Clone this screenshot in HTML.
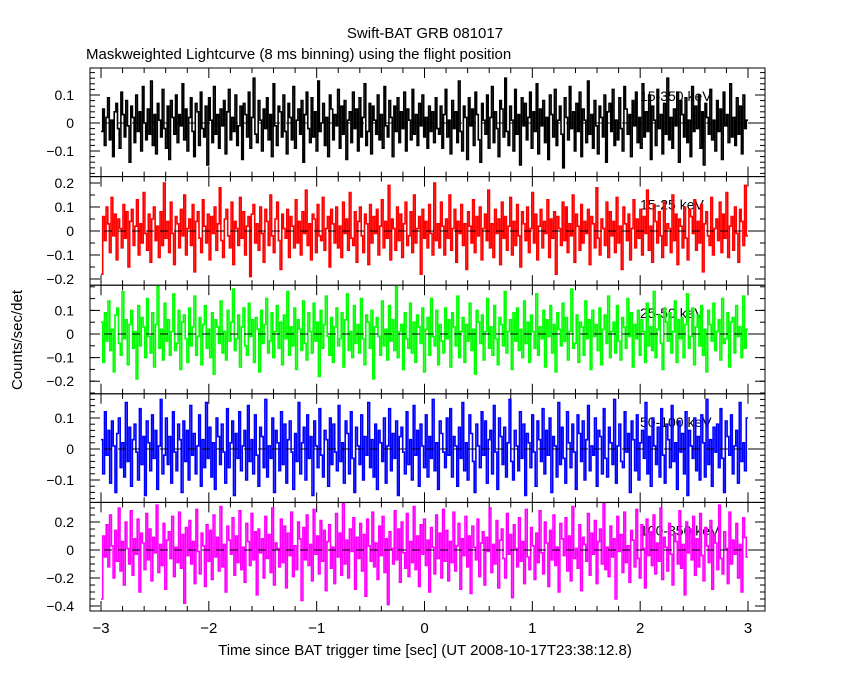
<!DOCTYPE html>
<html><head><meta charset="utf-8"><style>
body{margin:0;background:#fff}
svg text{font-family:"Liberation Sans",sans-serif;fill:#000}
</style></head><body>
<svg id="c" width="850" height="680" xmlns="http://www.w3.org/2000/svg">
<text x="425" y="38" font-size="15" text-anchor="middle">Swift-BAT GRB 081017</text>
<text x="86" y="59" font-size="15">Maskweighted Lightcurve (8 ms binning) using the flight position</text>
<text x="22" y="340" font-size="15" text-anchor="middle" transform="rotate(-90 22 340)">Counts/sec/det</text>
<text x="425" y="655" font-size="15" text-anchor="middle">Time since BAT trigger time [sec] (UT 2008-10-17T23:38:12.8)</text>
</svg>
<script>
const xTicks=[-3,-2,-1,0,1,2,3];
const bandLabels=["15-350 keV","15-25 keV","25-50 keV","50-100 keV","100-350 keV"];
const colors=["#000","#f00","#0f0","#00f","#f0f"];
const s1=[-3,5,-8,2,9,-6,1,-12,4,7,-2,-9,11,3,-5,8,-1,-14,6,2,-7,10,-3,4,-10,13,0,-6,5,-4,15,-8,3,-11,7,1,-5,12,-2,-9,6,-13,8,2,-4,10,-7,3,-1,14,-6,5,-10,2,9,-3,-12,7,4,-8,11,-2,-5,6,-15,9,1,-7,13,-4,3,-9,5,-1,8,-11,4,12,-6,2,-3,10,-8,-1,6,-13,7,3,-5,11,-9,2,16,-4,-7,8,1,-10,5,-2,9,-6,3,-12,14,-1,-8,6,4,-5,10,-3,-11,7,2,-6,13,-9,1,5,-4,8,-14,3,11,-2,-7,9,-5,4,-10,15,-3,0,7,-8,2,-12,10,5,-6,3,-1,12,-9,6,-4,8,-13,1,4,-7,11,-2,5,-10,9,-5,2,14,-8,-3,7,-11,6,1,-4,10,-6,3,-9,13,-1,-5,8,2,-12,6,-3,9,-7,4,-2,11,-10,5,1,-6,12,-4,3,-8,7,-1,10,-5,2,-9,6,-3,4,-7,9,-2,-4,
6,-9,3,12,-5,1,-11,8,-2,4,-7,15,-3,-10,6,2,-13,9,-1,5,-8,11,3,-6,-14,7,1,-4,10,-9,2,13,-7,4,-2,-12,8,5,-5,16,-3,-8,6,1,-10,12,-4,3,-15,9,-1,7,-6,2,11,-9,4,-3,14,-11,5,-1,8,-7,2,-13,10,3,-5,12,-8,1,6,-4,-16,9,2,-6,13,-2,4,-10,7,-3,11,-12,5,1,-7,15,-4,3,-9,8,-1,-11,6,2,-5,10,-14,4,7,-3,12,-8,1,-6,9,-2,-10,13,5,-4,3,-12,8,-1,11,-7,2,-9,14,-5,4,-3,10,-13,6,1,-8,12,-2,3,-11,7,-4,16,-6,2,-9,5,-1,11,-14,8,3,-5,9,-7,1,-12,13,-3,6,-2,10,-9,4,-15,7,2,-4,12,-6,1,-10,8,-3,5,-13,11,-1,3,-7,14,-5,2,-8,9,-4,6,-11,10,-2,1];
const s2=[-18,6,-4,10,3,-9,14,-2,7,-12,5,1,-7,11,-3,8,-15,4,9,-6,2,13,-10,3,-5,16,-1,-8,7,-13,5,10,-4,2,-11,8,-6,20,-3,4,-9,12,-1,-14,6,3,-7,9,-2,15,-10,1,5,-6,11,-17,4,8,-3,-9,13,2,-5,7,-12,6,-1,10,-8,3,18,-4,-11,5,9,-2,-7,12,-14,4,1,-6,14,-3,8,-10,2,6,-19,7,11,-5,3,-8,10,-1,-13,9,4,-6,15,-2,-9,5,12,-4,-16,7,1,-3,9,-11,6,2,-7,13,-5,4,-10,8,-1,17,-6,3,-12,7,5,-9,11,-2,-4,14,-8,1,6,-15,9,3,-5,10,-7,2,-11,12,-1,5,-8,16,-3,-6,8,-13,4,10,-2,-9,7,3,-14,11,-5,6,-1,9,-10,2,13,-7,4,-3,19,-12,5,1,-8,10,-4,7,-11,3,12,-6,-2,8,-9,15,-5,1,6,-18,9,-3,4,-7,11,-1,-10,20,-4,3,
-7,12,2,-10,5,-3,15,-8,1,9,-13,4,-1,11,-6,3,-16,8,2,-5,13,-9,6,-2,10,-12,1,7,-4,17,-7,3,-11,9,-1,5,-14,12,-3,6,-8,2,14,-10,4,-6,11,-2,-15,8,3,-4,10,-9,1,16,-5,7,-12,2,9,-7,4,-1,13,-11,5,-3,8,-18,6,1,-6,12,-4,10,-9,3,-2,15,-13,7,2,-8,11,-5,4,-1,9,-14,6,3,-7,18,-3,-10,5,1,-6,12,-11,8,-2,4,-9,14,-5,2,-16,10,3,-4,7,-12,1,13,-7,5,-3,9,-10,6,-1,17,-8,2,-13,11,4,-5,8,-2,-11,12,-6,3,1,-9,15,-4,7,-14,5,2,-7,10,-3,-12,9,6,-1,13,-8,4,-5,11,-17,3,8,-2,-6,14,-10,1,5,-4,12,-9,7,-3,16,-11,2,6,-8,10,-1,-13,9,4,-6,19,-2];
const s3=[5,-12,9,-3,14,-7,2,-16,8,11,-4,-9,18,-2,6,-13,4,10,-6,1,-19,12,-5,7,3,-10,15,-1,-8,9,-14,4,20,-6,2,-11,13,-3,6,-9,1,17,-7,-4,10,-15,5,8,-2,-12,11,-5,3,16,-9,-1,7,-13,4,12,-6,2,-10,9,-17,6,3,-4,14,-8,1,-11,10,-3,5,19,-7,-2,8,-14,3,11,-5,-9,13,-1,6,-12,7,2,-16,10,-4,4,15,-8,-3,9,-10,1,12,-6,5,-13,8,-2,18,-9,3,-5,11,-15,6,2,-7,14,-4,-11,9,1,-8,13,-3,5,-18,10,-6,4,16,-1,-9,7,-12,3,11,-5,-2,9,-14,6,17,-7,1,-10,12,-4,4,-8,15,-2,-13,8,5,-6,10,-19,3,7,-1,-9,14,-5,2,-11,12,-3,6,-7,20,-10,1,4,-15,9,-2,-6,13,-8,5,-12,8,3,-4,11,-16,2,7,-9,15,-1,-5,10,-13,4,-3,
-8,11,-2,6,-14,9,3,-5,16,-10,1,7,-12,4,-3,13,-7,2,-17,10,5,-4,8,-11,1,15,-6,3,-9,12,-2,-13,7,4,-5,18,-8,1,6,-15,9,-3,11,-7,2,-10,14,-4,5,-12,8,1,-6,17,-9,3,-2,10,-14,6,-1,12,-8,4,-16,9,2,-5,13,-3,7,-11,1,19,-6,-4,8,-12,5,3,-9,14,-2,6,-15,10,-1,4,-7,11,-13,2,8,-4,16,-10,1,5,-8,12,-3,-11,7,3,-6,15,-1,9,-14,4,-2,10,-9,6,1,-12,13,-5,3,-7,18,-10,2,8,-4,-15,11,5,-3,9,-8,1,14,-12,6,-2,7,-10,4,17,-6,-1,11,-13,3,8,-5,12,-9,2,-16,10,4,-3,13,-7,1,6,-11,15,-4,-2,9,-14,5,7,-8,12,-1,3,-10,16,-6,2];
const s4=[3,-8,12,-2,6,-11,9,1,-14,5,10,-6,2,-9,15,-4,7,-12,3,8,-1,-10,13,-5,4,-15,9,2,-7,11,-3,6,-13,1,16,-8,-2,10,-5,4,-11,12,-1,-7,8,3,-14,9,-4,6,-10,14,-2,5,-8,1,11,-12,3,-6,15,-3,7,-9,2,-13,10,4,-5,8,-1,-11,13,-6,2,9,-15,5,-3,12,-7,1,6,-10,14,-4,3,-8,11,-2,-12,7,4,-6,16,-9,1,-3,10,-14,6,2,-7,12,-5,8,-11,3,9,-1,-13,5,-4,15,-8,2,7,-10,11,-3,4,-15,9,1,-6,13,-2,-9,6,3,-12,10,-5,8,-1,-7,14,-4,2,-11,9,5,-8,12,-3,-14,7,1,-5,11,-10,4,-2,15,-6,3,-9,8,-13,6,2,-4,10,-11,1,13,-7,5,-3,9,-15,4,7,-1,-8,12,-5,3,-10,14,-2,6,-12,8,1,-6,11,-9,4,-3,16,-7,2,-13,9,5,-1,
-6,10,-2,13,-9,4,1,-12,7,-3,15,-7,2,-10,11,5,-4,-14,8,1,-6,12,-2,9,-11,3,6,-8,14,-1,-13,10,4,-5,7,-9,2,16,-4,-10,6,1,-7,12,-3,8,-15,5,2,-6,11,-1,-12,9,3,-4,13,-8,6,-2,10,-14,4,1,-9,15,-5,7,-3,-11,12,2,-6,8,-1,-13,11,5,-4,9,-10,3,14,-7,1,-2,10,-12,6,4,-8,13,-3,-9,7,2,-5,16,-11,1,8,-4,-6,12,-1,5,-14,9,3,-7,11,-10,2,6,-3,15,-8,4,-12,10,1,-5,7,-9,13,-2,-11,8,3,-6,14,-4,2,-13,9,-1,5,-8,12,-15,6,1,-3,10,-7,4,-10,11,2,-9,16,-5,3,-12,7,-1,8,-6,13,-3,-14,9,4,-2,11,-8,1,6,-11,15,-4,2,-7,10];
const s5=[-35,10,-5,18,-12,25,3,-20,14,-8,30,-15,6,-25,20,1,-10,28,-18,8,-3,22,-30,12,5,-14,26,-7,15,-22,9,-2,32,-16,4,-11,19,-28,7,13,-6,24,-19,2,-9,27,-13,11,-38,16,-4,21,-10,6,-24,29,-1,-17,12,3,-26,18,-8,14,-21,25,-5,9,-15,31,-12,4,-30,17,7,-3,23,-18,10,-9,28,-14,2,-23,19,6,-11,26,-7,13,-32,15,-2,8,-20,24,-6,11,-16,30,-25,5,1,-12,22,-9,17,-27,12,-4,27,-19,3,-14,20,8,-36,16,-7,25,-11,4,-22,29,-3,10,-17,21,-8,14,-29,6,18,-13,2,-24,26,-5,12,-18,33,-10,7,-20,15,-1,23,-28,9,-6,19,-15,11,-33,22,3,-8,27,-12,5,-21,17,-4,24,-16,8,-39,13,1,-10,28,-7,15,-23,20,-2,-13,26,-19,6,-9,31,-14,10,-26,18,-3,22,-11,7,-30,16,2,-17,25,-6,12,-20,29,-8,
14,-22,6,-9,27,-15,3,19,-28,8,-4,24,-12,10,-31,17,2,-7,22,-19,5,13,-25,9,-1,30,-16,4,-10,21,-27,7,15,-6,-20,26,-3,11,-34,18,1,-12,23,-8,6,-24,29,-5,-14,16,3,-21,12,-9,28,-2,-17,20,5,-26,14,-7,25,-11,2,-30,19,8,-4,23,-15,10,-22,31,-6,1,-13,18,-29,9,4,-8,26,-18,12,-3,21,-24,6,15,-10,33,-14,2,-19,17,-5,8,-35,24,-1,11,-16,27,-9,3,-23,14,7,-12,29,-6,-20,18,1,-27,22,-4,13,-11,25,-17,5,-8,30,-21,9,2,-15,19,-3,-25,12,6,-10,28,-13,4,-32,20,-2,15,-7,24,-18,8,-12,26,-4,-22,16,3,-9,21,-28,11,5,-14,32,-6,-17,13,1,-24,27,-10,7,-3,19,-20,4,-30,23,9,-5];
const series=[s1,s2,s3,s4,s5];
const yTicks1=[-0.1,0,0.1], yTicks2=[-0.2,-0.1,0,0.1,0.2], yTicks3=[-0.2,-0.1,0,0.1], yTicks4=[-0.1,0,0.1], yTicks5=[-0.4,-0.2,0,0.2];
const yTickSets=[yTicks1,yTicks2,yTicks3,yTicks4,yTicks5];
// panel layout (pixel geometry)
const L=90,R=765,T=68,B=611,PH=(B-T)/5;
const zeroY=[123,231,334,449,550], pxPerUnit=[280,240,236,310,140], minorStep=[0.02,0.05,0.05,0.02,0.05];
const X=t=>101+(t+3)*(748-101)/6;
const svg=document.getElementById('c');const NS="http://www.w3.org/2000/svg";
function mk(tag,a,parent){const e=document.createElementNS(NS,tag);for(const k in a)e.setAttribute(k,a[k]);(parent||svg).appendChild(e);return e;}
for(let p=0;p<5;p++){
  const top=T+p*PH,bot=top+PH;
  const Y=v=>zeroY[p]-v*pxPerUnit[p];
  const g=mk('g',{});
  
  
  const lab=mk('text',{x:640,y:top+33,'font-size':14,fill:'#888'},g);
  
  
  lab.textContent=bandLabels[p];
  const d=series[p];
  const n=d.length, w=6/n;
  let pts=[];
  d.forEach((v,i)=>{const y=Math.max(top,Math.min(bot,Y(v*0.01))).toFixed(1);
    pts.push(X(-3+i*w).toFixed(1)+','+y);pts.push(X(-3+(i+1)*w).toFixed(1)+','+y);});
  const pl=mk('polyline',{points:pts.join(' '),fill:'none',stroke:colors[p],'stroke-width':1.6},g);
  
  
  const z=mk('line',{x1:L,x2:R,y1:Y(0),y2:Y(0),stroke:'#000','stroke-dasharray':'8,6'},g);
  
  
  const vTop=(zeroY[p]-top)/pxPerUnit[p],vBot=(zeroY[p]-bot)/pxPerUnit[p];
  for(let v=Math.ceil(vBot/minorStep[p])*minorStep[p];v<=vTop;v+=minorStep[p]){
    mk('line',{x1:L,x2:L+5,y1:Y(v),y2:Y(v),stroke:'#000'},g);
    mk('line',{x1:R,x2:R-5,y1:Y(v),y2:Y(v),stroke:'#000'},g);
  }
  yTickSets[p].forEach(v=>{
    mk('line',{x1:L,x2:L+10,y1:Y(v),y2:Y(v),stroke:'#000'},g);
    mk('line',{x1:R,x2:R-10,y1:Y(v),y2:Y(v),stroke:'#000'},g);
    const t=mk('text',{x:74,y:Y(v)+5,'font-size':14,'text-anchor':'end'},g);
    
    
    t.textContent=v===0?'0':String(v).replace('-','\u2212');
  });
  for(let t=-3;t<=3.001;t+=0.2){const big=Math.abs(t-Math.round(t))<1e-6;const h=big?10:5;
    mk('line',{x1:X(t),x2:X(t),y1:top,y2:top+h,stroke:'#000'},g);
    mk('line',{x1:X(t),x2:X(t),y1:bot,y2:bot-h,stroke:'#000'},g);}
  const fr=mk('rect',{x:L,y:top,width:R-L,height:PH,fill:'none',stroke:'#000'},g);
  
  
}
xTicks.forEach(t=>{
  const e=mk('text',{x:X(t),y:633,'font-size':15,'text-anchor':'middle'});
  
  
  e.textContent=String(t).replace('-','\u2212');
});
</script>
</body></html>
